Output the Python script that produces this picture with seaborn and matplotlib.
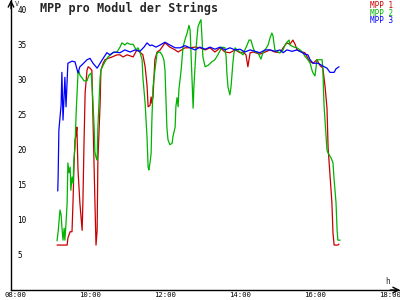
import numpy as np
import pandas as pd
import matplotlib
matplotlib.use("Agg")
import matplotlib.pyplot as plt
import seaborn as sns

# ---- data (time in decimal hours, value in V) ----
t_mpp1 = [9.12, 9.25, 9.39, 9.41, 9.47, 9.52, 9.55, 9.57, 9.60, 9.63, 9.65, 9.68, 9.73, 9.79, 9.81,
          9.84, 9.87, 9.92, 9.95, 10.0, 10.05, 10.08, 10.13, 10.16, 10.19, 10.21, 10.27, 10.29, 10.35,
          10.4, 10.48, 10.59, 10.72, 10.8, 10.88, 10.99, 11.15, 11.25, 11.33, 11.41, 11.47, 11.52, 11.55,
          11.6, 11.63, 11.65, 11.68, 11.73, 11.79, 11.87, 12.0, 12.13, 12.27, 12.35, 12.53, 12.67, 12.8,
          12.93, 13.07, 13.2, 13.33, 13.47, 13.6, 13.73, 13.87, 14.0, 14.08, 14.16, 14.21, 14.27, 14.35,
          14.53, 14.67, 14.8, 14.93, 15.07, 15.15, 15.25, 15.33, 15.41, 15.47, 15.52, 15.6, 15.73, 15.81,
          15.87, 15.95, 16.05, 16.13, 16.21, 16.27, 16.32, 16.35, 16.4, 16.45, 16.48, 16.51, 16.61, 16.64]
v_mpp1 = [6.4, 6.4, 6.4, 7.4, 8.3, 8.3, 13.1, 17.4, 21.4, 22.1, 23.2, 17.1, 12.4, 8.5, 12.4,
          20.9, 28.1, 31.3, 31.8, 31.6, 31.3, 24.2, 12.8, 6.4, 8.5, 18.5, 26.6, 31.3, 32.3,
          32.8, 33.0, 33.2, 33.5, 33.5, 33.2, 33.5, 33.2, 34.2, 33.9, 33.5, 31.8, 29.2, 26.1,
          26.3, 27.5, 26.6, 27.5, 32.8, 33.9, 34.2, 35.2, 34.6, 34.2, 33.9, 34.5, 34.5, 34.6,
          34.5, 34.2, 34.5, 33.9, 34.5, 33.9, 33.8, 34.2, 33.8, 33.9, 33.5, 31.8, 33.8, 33.9,
          33.6, 33.9, 34.2, 33.9, 33.8, 34.5, 35.2, 35.0, 35.6, 35.0, 34.2, 34.0, 33.8, 33.0,
          32.5, 32.3, 32.8, 32.0, 31.6, 28.9, 25.9, 20.2, 16.4, 12.5, 8.1, 6.4, 6.4, 6.55]

t_mpp2 = [9.12, 9.15, 9.2, 9.23, 9.25, 9.28, 9.31, 9.33, 9.36, 9.39, 9.41, 9.44, 9.47, 9.49, 9.52,
          9.55, 9.57, 9.6, 9.63, 9.65, 9.68, 9.71, 9.73, 9.79, 9.84, 9.92, 9.97, 10.03, 10.05, 10.08,
          10.11, 10.13, 10.16, 10.19, 10.21, 10.24, 10.27, 10.29, 10.35, 10.4, 10.48, 10.61, 10.72, 10.8,
          10.85, 10.93, 10.99, 11.07, 11.15, 11.23, 11.28, 11.33, 11.39, 11.41, 11.47, 11.52, 11.55, 11.57,
          11.6, 11.63, 11.65, 11.68, 11.73, 11.79, 11.87, 11.92, 11.97, 12.0, 12.03, 12.05, 12.08, 12.13,
          12.19, 12.21, 12.27, 12.29, 12.32, 12.35, 12.37, 12.43, 12.48, 12.53, 12.59, 12.64, 12.67, 12.72,
          12.75, 12.77, 12.8, 12.83, 12.88, 12.93, 12.96, 12.99, 13.01, 13.07, 13.15, 13.25, 13.33, 13.41,
          13.52, 13.6, 13.63, 13.65, 13.68, 13.73, 13.76, 13.79, 13.81, 13.84, 13.87, 13.92, 14.0, 14.08,
          14.13, 14.19, 14.24, 14.29, 14.35, 14.4, 14.48, 14.53, 14.56, 14.61, 14.67, 14.75, 14.8, 14.85,
          14.88, 14.93, 15.01, 15.07, 15.15, 15.2, 15.25, 15.31, 15.33, 15.44, 15.52, 15.6, 15.68, 15.73,
          15.81, 15.87, 15.92, 15.95, 16.0, 16.03, 16.05, 16.19, 16.21, 16.24, 16.32, 16.35, 16.43, 16.48,
          16.51, 16.56, 16.59, 16.61, 16.67]
v_mpp2 = [7.0, 8.3, 11.4, 10.7, 9.0, 7.1, 8.8, 7.1, 9.5, 12.4, 18.1, 16.7, 17.5, 14.2, 16.1,
          15.2, 18.5, 20.4, 25.2, 27.5, 30.9, 31.1, 30.6, 30.2, 29.8, 29.8, 30.6, 30.9, 29.5, 26.6,
          23.2, 19.7, 18.9, 18.5, 23.2, 26.6, 30.3, 31.3, 32.0, 32.5, 33.2, 33.8, 33.9, 34.6,
          35.2, 34.9, 35.2, 35.0, 35.0, 34.2, 34.5, 33.9, 32.8, 30.3, 26.6, 21.8, 17.5, 17.1,
          18.1, 19.5, 24.2, 28.9, 31.3, 33.8, 33.9, 33.5, 32.8, 31.3, 26.6, 23.2, 21.4, 20.7,
          20.9, 21.8, 23.2, 26.1, 27.4, 26.1, 28.5, 31.3, 34.6, 35.6, 36.6, 37.7, 37.0, 29.9,
          25.9, 28.9, 31.8, 34.6, 37.5, 38.2, 38.5, 35.6, 33.2, 31.8, 32.0, 32.5, 32.8, 33.5,
          34.6, 34.5, 33.2, 30.9, 28.9, 27.8, 28.9, 30.9, 32.3, 33.8, 34.5, 34.2, 33.9, 33.5,
          34.2, 34.9, 35.6, 35.6, 34.5, 33.9, 33.8, 33.2, 32.9, 33.8, 34.2, 34.9, 35.9, 36.6,
          36.2, 34.2, 33.9, 33.8, 34.2, 34.9, 35.3, 35.6, 34.9, 34.6, 34.5, 34.2, 33.8, 33.3,
          32.8, 32.3, 31.3, 30.9, 30.5, 31.8, 32.8, 32.8, 31.3, 26.4, 19.9, 19.5, 18.8, 18.1,
          15.7, 12.5, 8.5, 7.1, 7.1]

t_mpp3 = [9.14, 9.15, 9.17, 9.23, 9.25, 9.28, 9.31, 9.33, 9.36, 9.41, 9.52, 9.60, 9.68, 9.73, 9.81,
          9.92, 10.0, 10.08, 10.19, 10.27, 10.35, 10.45, 10.53, 10.64, 10.8, 10.93, 11.07, 11.2, 11.33,
          11.44, 11.52, 11.6, 11.65, 11.76, 11.87, 12.0, 12.13, 12.27, 12.4, 12.53, 12.67, 12.8, 12.93,
          13.07, 13.2, 13.33, 13.47, 13.6, 13.73, 13.87, 14.0, 14.13, 14.27, 14.4, 14.53, 14.67, 14.8,
          14.93, 15.07, 15.15, 15.25, 15.39, 15.52, 15.63, 15.73, 15.81, 15.87, 15.95, 16.08, 16.21, 16.32,
          16.4, 16.51, 16.56, 16.64]
v_mpp3 = [14.1, 16.1, 22.8, 26.4, 31.0, 24.2, 27.8, 30.3, 26.1, 32.3, 32.6, 32.5, 30.9, 31.8, 32.2,
          32.8, 33.0, 32.3, 31.6, 32.3, 33.0, 33.8, 33.5, 33.9, 33.8, 34.2, 33.9, 34.2, 34.0,
          34.6, 35.2, 34.8, 34.9, 34.6, 34.9, 35.3, 34.9, 34.5, 34.5, 34.8, 34.5, 34.2, 34.6,
          34.3, 34.6, 34.3, 34.6, 34.2, 34.5, 34.2, 34.3, 33.9, 34.2, 34.0, 33.8, 34.2, 34.2,
          34.0, 34.2, 33.8, 34.2, 34.0, 34.2, 33.9, 33.6, 33.5, 32.8, 32.3, 32.3, 31.9, 31.6,
          31.0, 31.0, 31.5, 31.8]

series_names = ["MPP 1", "MPP 2", "MPP 3"]
series_colors = ["#C80000", "#00B400", "#0000FF"]
x_ticks = [8, 10, 12, 14, 16, 18]
x_tick_labels = ["08:00", "10:00", "12:00", "14:00", "16:00", "18:00"]
y_ticks = [5, 10, 15, 20, 25, 30, 35, 40]
title = "MPP pro Modul der Strings"

# ---- build long table ----
frames = []
for name, t, v in zip(series_names, [t_mpp1, t_mpp2, t_mpp3], [v_mpp1, v_mpp2, v_mpp3]):
    frames.append(pd.DataFrame({"t": t, "v": v, "s": name}))
df = pd.concat(frames, ignore_index=True)

sns.set_style("white")
plt.rcParams["font.family"] = ["DejaVu Sans Mono", "DejaVu Sans"]

fig = plt.figure(figsize=(4, 3), dpi=100)
fig.patch.set_facecolor("white")
ax = fig.add_axes([11 / 400, 10 / 300, 389 / 400, 290 / 300])
ax.set_facecolor("white")

sns.lineplot(data=df, x="t", y="v", hue="s", palette=dict(zip(series_names, series_colors)),
             estimator=None, sort=False, linewidth=0.9, legend=False, ax=ax)

ax.set_xlim(7.893, 18.267)
ax.set_ylim(0, 41.31)
ax.set_xlabel("")
ax.set_ylabel("")

for side in ["top", "right"]:
    ax.spines[side].set_visible(False)
for side in ["left", "bottom"]:
    ax.spines[side].set_color("black")
    ax.spines[side].set_linewidth(1.0)

ax.set_xticks(x_ticks)
ax.set_xticklabels(x_tick_labels)
ax.set_yticks(y_ticks)
ax.set_yticklabels([str(y) for y in y_ticks])
ax.tick_params(axis="both", direction="inout", length=5, width=1, colors="black", labelsize=5.5)
ax.tick_params(axis="x", pad=-1, labelsize=5.2)
ax.tick_params(axis="y", pad=-7)
for lbl in ax.get_yticklabels():
    lbl.set_horizontalalignment("left")

# axis arrows
ax.annotate("", xy=(0, 1.0), xytext=(0, 0.97), xycoords="axes fraction",
            arrowprops=dict(arrowstyle="->", lw=1, color="black", shrinkA=0, shrinkB=0))
ax.annotate("", xy=(1.0, 0), xytext=(0.975, 0), xycoords="axes fraction",
            arrowprops=dict(arrowstyle="->", lw=1, color="black", shrinkA=0, shrinkB=0))

fig.text(15 / 400, 1 - 3.5 / 300, "V", fontsize=5, va="center", ha="left")
fig.text(385 / 400, 1 - 282 / 300, "h", fontsize=5.5, va="center", ha="left")

fig.text(40 / 400, 1 - 8 / 300, title, fontsize=8.5, fontweight="bold", va="center", ha="left",
         family=["DejaVu Sans Mono"])

for i, (name, col) in enumerate(zip(series_names, series_colors)):
    fig.text(370 / 400, 1 - (5.5 + 7.5 * i) / 300, name, color=col, fontsize=5.5,
             va="center", ha="left")

fig.savefig("out.png", dpi=100, facecolor="white")
